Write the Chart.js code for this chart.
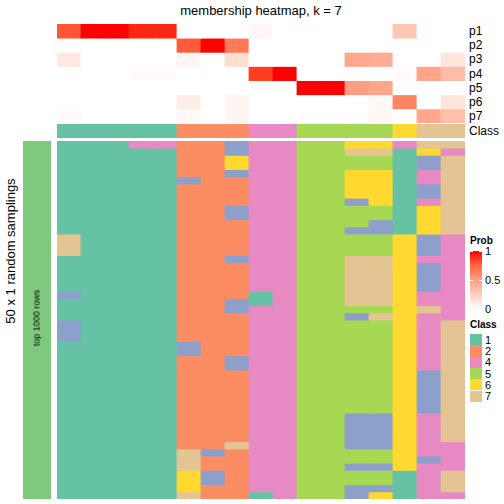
<!DOCTYPE html>
<html lang="en">
<head>
<meta charset="UTF-8">
<title>membership heatmap, k = 7</title>
<script src="https://cdn.jsdelivr.net/npm/chart.js"></script>
<style>
  body { margin: 0; width: 504px; height: 504px; background: #fff; position: relative; overflow: hidden;
         font-family: "Liberation Sans", Arial, Helvetica, sans-serif; color: #000; }
  .box { position: absolute; }
  canvas { display: block; }
  .txt { position: absolute; white-space: nowrap; line-height: 1; }
  .rot { transform: translate(-50%, -50%) rotate(-90deg); }
  .mid { transform: translateY(-50%); }
</style>
</head>
<body>
<div class="txt" style="left:0;width:522px;top:4px;font-size:13px;text-align:center">membership heatmap, k = 7</div>
<div class="txt rot" style="left:10px;top:251px;font-size:13px">50 x 1 random samplings</div>

<div class="box" style="left:57px;top:24px"><canvas id="probChart" width="408" height="99"></canvas></div>
<div class="box" style="left:57px;top:124px"><canvas id="classChart" width="408" height="14"></canvas></div>
<div class="box" style="left:57px;top:141px"><canvas id="mainChart" width="408" height="358"></canvas></div>
<div class="box" style="left:23px;top:141px"><canvas id="splitChart" width="28" height="358"></canvas></div>
<div class="txt rot" style="left:37px;top:318px;font-size:9px">top 1000 rows</div>

<div id="labels"></div>

<script>
  // ---- data ----
  const samples = ['s1','s2','s3','s4','s5','s6','s7','s8','s9','s10','s11','s12','s13','s14','s15','s16','s17'];
  const probNames = ['p1','p2','p3','p4','p5','p6','p7'];
  const p1 = [0.82, 1, 1, 0.95, 0.95, 0, 0, 0, 0.04, 0, 0, 0, 0, 0, 0.3, 0, 0];
  const p2 = [0, 0, 0, 0, 0, 0.8, 1, 0.68, 0, 0, 0, 0, 0, 0, 0, 0, 0];
  const p3 = [0.12, 0, 0, 0, 0, 0.05, 0, 0.18, 0, 0, 0, 0, 0.45, 0.42, 0, 0, 0.13];
  const p4 = [0, 0, 0, 0.02, 0.02, 0, 0, 0, 0.9, 1, 0, 0, 0, 0, 0.02, 0.47, 0.35];
  const p5 = [0, 0, 0, 0, 0, 0, 0, 0, 0, 0, 1, 1, 0.5, 0.46, 0, 0, 0];
  const p6 = [0, 0, 0, 0, 0, 0.1, 0, 0.05, 0, 0, 0, 0, 0, 0.03, 0.62, 0, 0.13];
  const p7 = [0.02, 0, 0, 0, 0, 0.03, 0, 0.05, 0, 0, 0, 0, 0, 0.04, 0, 0.45, 0.33];
  const sampleClass = [1, 1, 1, 1, 1, 2, 2, 2, 4, 4, 5, 5, 5, 5, 6, 7, 7];
  const legendClasses = [1, 2, 4, 5, 6, 7];
  const probTicks = [1, 0.5, 0];

  // one string per random sampling, one digit (class) per sample
  const samplings = [
    '11144223445566477', '11111223445577164', '11111226445555137', '11111226445555137',
    '11111223445566147', '11111322445566147', '11111222445566137', '11111222445566137',
    '11111222445536147', '11111223445555167', '11111223445555167', '11111222445553167',
    '11111222445533167', '71111222445555634', '71111222445555634', '71111222445555634',
    '11111223445577644', '11111222445577634', '11111222445577634', '11111222445577634',
    '11111222445577634', '31111222145577644', '11111223145577644', '11111223445555674',
    '11111222445537644', '31111222445555647', '31111222445555647', '31111222445555647',
    '11111322445555647', '11111322445555647', '11111223445555647', '11111223445555647',
    '11111222445555637', '11111222445555637', '11111222445555637', '11111222445555637',
    '11111222445555637', '11111222445555637', '11111222445533647', '11111222445533647',
    '11111222445533647', '11111222445533647', '11111227445533644', '11111732445555644',
    '11111722445555634', '11111722445533644', '11111632445555147', '11111632445555147',
    '11111622445533147', '11111722145536144'
  ];

  const classColors = { 1: '#66C2A5', 2: '#FC8D62', 3: '#8DA0CB', 4: '#E78AC3', 5: '#A6D854', 6: '#FFD92F', 7: '#E5C494' };

  // white -> red in LAB space
  function lin(c) { c /= 255; return c <= 0.04045 ? c / 12.92 : Math.pow((c + 0.055) / 1.055, 2.4); }
  function gam(c) { c = c <= 0.0031308 ? 12.92 * c : 1.055 * Math.pow(c, 1 / 2.4) - 0.055; return Math.round(Math.max(0, Math.min(1, c)) * 255); }
  function toLab(r, g, b) {
    const R = lin(r), G = lin(g), B = lin(b);
    const X = (0.4124 * R + 0.3576 * G + 0.1805 * B) / 0.95047;
    const Y = 0.2126 * R + 0.7152 * G + 0.0722 * B;
    const Z = (0.0193 * R + 0.1192 * G + 0.9505 * B) / 1.08883;
    const f = t => t > 0.008856 ? Math.cbrt(t) : 7.787 * t + 16 / 116;
    return [116 * f(Y) - 16, 500 * (f(X) - f(Y)), 200 * (f(Y) - f(Z))];
  }
  function fromLab(L, a, b) {
    const fy = (L + 16) / 116, fx = fy + a / 500, fz = fy - b / 200;
    const inv = t => t * t * t > 0.008856 ? t * t * t : (t - 16 / 116) / 7.787;
    const X = inv(fx) * 0.95047, Y = inv(fy), Z = inv(fz) * 1.08883;
    const R = 3.2406 * X - 1.5372 * Y - 0.4986 * Z;
    const G = -0.9689 * X + 1.8758 * Y + 0.0415 * Z;
    const B = 0.0557 * X - 0.2040 * Y + 1.0570 * Z;
    return `rgb(${gam(R)},${gam(G)},${gam(B)})`;
  }
  const labW = toLab(255, 255, 255), labR = toLab(255, 0, 0);
  function probColor(v) {
    return fromLab(labW[0] + (labR[0] - labW[0]) * v, labW[1] + (labR[1] - labW[1]) * v, labW[2] + (labR[2] - labW[2]) * v);
  }

  // rows of cells drawn as stacked bars of height 1
  function heatmap(id, rows, names) {
    return new Chart(document.getElementById(id), {
      type: 'bar',
      data: {
        labels: rows[0].colors.map((c, i) => 'c' + i),
        datasets: rows.map((r, i) => ({
          label: names[i],
          data: r.colors.map(() => 1),
          backgroundColor: r.colors,
          borderWidth: 0,
          inflateAmount: 0.4,
          categoryPercentage: 1,
          barPercentage: 1
        }))
      },
      options: {
        responsive: false,
        animation: false,
        layout: { padding: 0 },
        plugins: { legend: { display: false }, tooltip: { enabled: false } },
        scales: {
          x: { display: false, stacked: true },
          y: { display: false, stacked: true, reverse: true, min: 0, max: rows.length }
        }
      }
    });
  }

  const probRows = [p1, p2, p3, p4, p5, p6, p7].map(p => ({ colors: p.map(probColor) }));
  const probChart = heatmap('probChart', probRows, probNames);
  const classChart = heatmap('classChart', [{ colors: sampleClass.map(c => classColors[c]) }], ['Class']);
  heatmap('mainChart', samplings.map(s => ({ colors: s.split('').map(c => classColors[c]) })), samplings.map((s, i) => 'r' + i));
  heatmap('splitChart', [{ colors: ['#7FC97F'] }], ['split']);

  // row labels on the right, placed from the chart scales
  const labels = document.getElementById('labels');
  function addText(txt, x, y, style) {
    const d = document.createElement('div');
    d.className = 'txt mid';
    d.style.left = x + 'px';
    d.style.top = y + 'px';
    d.style.cssText += style || '';
    d.textContent = txt;
    labels.appendChild(d);
    return d;
  }
  probNames.forEach((n, i) => addText(n, 469, 24 + probChart.scales.y.getPixelForValue(i + 0.5), 'font-size:12px'));
  addText('Class', 469, 124 + classChart.scales.y.getPixelForValue(0.5), 'font-size:12px');

  // Prob legend
  addText('Prob', 470, 241, 'font-size:10px;font-weight:bold');
  const gradTop = 251, gradH = 58;
  const grad = document.createElement('div');
  grad.className = 'box';
  const stops = [0, 0.25, 0.5, 0.75, 1].map(t => probColor(1 - t) + ' ' + (t * 100) + '%').join(',');
  grad.style.cssText = `left:470px;top:${gradTop}px;width:12px;height:${gradH}px;background:linear-gradient(to bottom,${stops})`;
  labels.appendChild(grad);
  probTicks.forEach(v => {
    const y = gradTop + (1 - v) * gradH;
    addText(String(v), 485, y, 'font-size:11px');
    ['470px', '479px'].forEach(x => {
      const t = document.createElement('div');
      t.className = 'box';
      t.style.cssText = `left:${x};top:${y - 0.5}px;width:3px;height:1px;background:#fff`;
      labels.appendChild(t);
    });
  });

  // Class legend
  addText('Class', 470, 325, 'font-size:10px;font-weight:bold');
  legendClasses.forEach((c, i) => {
    const top = 334 + i * 11.3;
    const sq = document.createElement('div');
    sq.className = 'box';
    sq.style.cssText = `left:470px;top:${top}px;width:12px;height:11.3px;background:${classColors[c]}`;
    labels.appendChild(sq);
    addText(String(c), 485, top + 5.8, 'font-size:11px');
  });
</script>
</body>
</html>
